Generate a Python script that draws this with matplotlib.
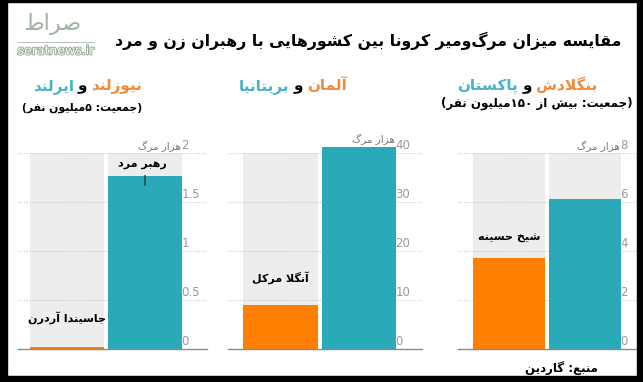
import re
import matplotlib
matplotlib.use('Agg')
import matplotlib.pyplot as plt
from matplotlib.patches import Rectangle
import matplotlib.patheffects as pe

plt.rcParams['font.family'] = ['DejaVu Sans']

# ---------------- data ----------------
title = 'مقایسه میزان مرگ\u200cومیر کرونا بین کشورهایی با رهبران زن و مرد'
orange_names = ['نیوزلند', 'آلمان', 'بنگلادش']
teal_names = ['ایرلند', 'بریتانیا', 'پاکستان']
and_word = 'و'
populations = ['(جمعیت: ۵میلیون نفر)', '', '(جمعیت: بیش از ۱۵۰میلیون نفر)']
female_leaders = ['جاسیندا آردرن', 'آنگلا مرکل', 'شیخ حسینه']
male_leader_label = 'رهبر مرد'
female_deaths = [0.022, 9.0, 3.7]     # thousand deaths (female-led country)
male_deaths = [1.77, 41.2, 6.12]      # thousand deaths (male-led country)
y_ticks = [[0, 0.5, 1, 1.5, 2], [0, 10, 20, 30, 40], [0, 2, 4, 6, 8]]
y_tick_labels = [['0', '0.5', '1', '1.5', '2'],
                 ['0', '10', '20', '30', '40'],
                 ['0', '2', '4', '6', '8']]
unit_label = 'هزار مرگ'
source = 'منبع: گاردین'
site = 'seratnews.ir'
logo = 'صراط'

# ---------------- Persian shaping ----------------
def _f4(b):
    return (b, b + 1, b + 2, b + 3)

def _f2(b):
    return (b, b + 1)

FORMS = {
    '\u0621': (0xFE80,), '\u0622': _f2(0xFE81), '\u0623': _f2(0xFE83),
    '\u0624': _f2(0xFE85), '\u0625': _f2(0xFE87), '\u0626': _f4(0xFE89),
    '\u0627': _f2(0xFE8D), '\u0628': _f4(0xFE8F), '\u0629': _f2(0xFE93),
    '\u062A': _f4(0xFE95), '\u062B': _f4(0xFE99), '\u062C': _f4(0xFE9D),
    '\u062D': _f4(0xFEA1), '\u062E': _f4(0xFEA5), '\u062F': _f2(0xFEA9),
    '\u0630': _f2(0xFEAB), '\u0631': _f2(0xFEAD), '\u0632': _f2(0xFEAF),
    '\u0633': _f4(0xFEB1), '\u0634': _f4(0xFEB5), '\u0635': _f4(0xFEB9),
    '\u0636': _f4(0xFEBD), '\u0637': _f4(0xFEC1), '\u0638': _f4(0xFEC5),
    '\u0639': _f4(0xFEC9), '\u063A': _f4(0xFECD), '\u0641': _f4(0xFED1),
    '\u0642': _f4(0xFED5), '\u0643': _f4(0xFED9), '\u0644': _f4(0xFEDD),
    '\u0645': _f4(0xFEE1), '\u0646': _f4(0xFEE5), '\u0647': _f4(0xFEE9),
    '\u0648': _f2(0xFEED), '\u0649': _f2(0xFEEF), '\u064A': _f4(0xFEF1),
    '\u067E': _f4(0xFB56), '\u0686': _f4(0xFB7A), '\u0698': _f2(0xFB8A),
    '\u06A9': _f4(0xFB8E), '\u06AF': _f4(0xFB92), '\u06CC': _f4(0xFBFC),
}
LAM_ALEF = {'\u0622': (0xFEF5, 0xFEF6), '\u0623': (0xFEF7, 0xFEF8),
            '\u0625': (0xFEF9, 0xFEFA), '\u0627': (0xFEFB, 0xFEFC)}


def _joining(c):
    return c in FORMS and len(FORMS[c]) >= 2


def _joins_next(c):
    return c in FORMS and len(FORMS[c]) == 4


def shape(s):
    s = s.replace('\u064A', '\u06CC').replace('\u0643', '\u06A9')
    res = []
    i, n = 0, len(s)
    while i < n:
        c = s[i]
        prev = s[i - 1] if i > 0 else ''
        nxt = s[i + 1] if i + 1 < n else ''
        jp = _joins_next(prev) and _joining(c)
        if c == '\u0644' and nxt in LAM_ALEF:
            iso, fin = LAM_ALEF[nxt]
            res.append(chr(fin if jp else iso))
            i += 2
            continue
        if c in FORMS:
            f = FORMS[c]
            jn = len(f) == 4 and _joining(nxt)
            if jp and jn:
                res.append(chr(f[3]))
            elif jp:
                res.append(chr(f[1]))
            elif jn:
                res.append(chr(f[2]))
            else:
                res.append(chr(f[0]))
        elif c == '\u200c':
            pass
        else:
            res.append(c)
        i += 1
    return ''.join(res)


def fa(s):
    t = shape(s)[::-1]
    t = re.sub(r'[0-9\u06F0-\u06F9]+', lambda m: m.group(0)[::-1], t)
    return t.translate(str.maketrans('()', ')('))

# ---------------- figure ----------------
W, H = 643, 382
fig = plt.figure(figsize=(W / 100, H / 100), dpi=100)
fig.patch.set_facecolor('white')

ORANGE = '#ff8000'
TEAL = '#2aaab8'
BG = '#ededed'
HEAD_OR = '#f28a3a'
HEAD_TE = '#46b3c8'
TICK_C = '#9a9a9a'


def fx(px):
    return px / W


def fy(py):
    return 1 - py / H

# layout per panel (pixels): axes left/right, first-bar left, second-bar right
layout = [(18, 207, 30, 182), (228, 422, 243, 396), (458, 640, 473, 621)]
AX_TOP, AX_BOT = 153, 349
GAP = 4
fem_label_dy = [21, 19.5, 14.5]   # points above bar top
unit_dy = [1, 5.5, 1]

axes = []
for k, (al, ar, bl, br) in enumerate(layout):
    ax = fig.add_axes([fx(al), fy(AX_BOT), fx(ar - al), (AX_BOT - AX_TOP) / H])
    ax.patch.set_alpha(0)
    bw = (br - bl - GAP) / 2
    sp = bw + GAP
    w = bw / sp
    ax.set_xlim(-w / 2 - (bl - al) / sp, 1 + w / 2 + (ar - br) / sp)
    top = y_ticks[k][-1]
    ax.set_ylim(0, top)
    for s in ax.spines.values():
        s.set_visible(False)
    ax.set_xticks([])
    ax.set_yticks([])
    # background bars
    ax.bar([0, 1], [top, top], width=w, color=BG, zorder=1)
    # gridlines
    for t in y_ticks[k][1:]:
        ax.axhline(t, color='#c8c8c8', lw=0.8, ls=(0, (1, 1.5)), zorder=2)
    ax.axhline(0, color='#8a8a8a', lw=1.0, zorder=5, clip_on=False)
    # data bars
    ax.bar([0], [female_deaths[k]], width=w, color=ORANGE, zorder=3, clip_on=False)
    ax.bar([1], [male_deaths[k]], width=w, color=TEAL, zorder=3, clip_on=False)
    xr = 1 + w / 2
    for t, lab in zip(y_ticks[k], y_tick_labels[k]):
        ax.annotate(lab, xy=(xr, t), xytext=(-0.5, 0.8), textcoords='offset points',
                    ha='left', va='bottom', fontsize=8.5, color=TICK_C, zorder=6)
    ax.annotate(fa(unit_label), xy=(xr, top), xytext=(-1, unit_dy[k]),
                textcoords='offset points', ha='right', va='bottom',
                fontsize=7.5, color='#777777', zorder=6, annotation_clip=False)
    ax.annotate(fa(female_leaders[k]), xy=(0, female_deaths[k]),
                xytext=(0, fem_label_dy[k]), textcoords='offset points',
                ha='center', va='center', fontsize=8, fontweight='bold',
                color='black', zorder=6)
    axes.append(ax)

# male leader label (first panel)
ax0 = axes[0]
ax0.annotate(fa(male_leader_label), xy=(1, male_deaths[0]), xytext=(-2, 8),
             textcoords='offset points', ha='center', va='center', fontsize=8,
             fontweight='bold', color='black', zorder=6, annotation_clip=False)
ax0.annotate('', xy=(1, male_deaths[0]), xytext=(0, -7), textcoords='offset points',
             arrowprops=dict(arrowstyle='-', color='#333333', lw=1.0,
                             shrinkA=0, shrinkB=0), zorder=6)

# ---------------- texts ----------------
fig.text(fx(621), fy(41), fa(title), ha='right', va='center', fontsize=11.3,
         fontweight='bold', color='black')

renderer = fig.canvas.get_renderer()
head_right = [142, 347, 597]
HEAD_BASE = 90
for k in range(3):
    x = head_right[k]
    parts = [(orange_names[k], HEAD_OR), (and_word, 'black'), (teal_names[k], HEAD_TE)]
    for word, col in parts:
        t = fig.text(fx(x), fy(HEAD_BASE), fa(word), ha='right', va='baseline',
                     fontsize=11, fontweight='bold', color=col)
        bb = t.get_window_extent(renderer)
        x = bb.x0 - 4

pop_pos = [(142, 108), None, (633, 103)]
pop_size = [7.8, None, 8.6]
for k in range(3):
    if populations[k] and pop_pos[k]:
        px, py = pop_pos[k]
        fig.text(fx(px), fy(py), fa(populations[k]), ha='right', va='center',
                 fontsize=pop_size[k], fontweight='bold', color='black')

fig.text(fx(598), fy(368), fa(source), ha='right', va='center', fontsize=8.5,
         fontweight='bold', color='black')

# logo
fig.text(fx(56), fy(51), site, ha='center', va='center', fontsize=9, color='white',
         path_effects=[pe.withStroke(linewidth=1.3, foreground='#94a894')])
fig.text(fx(52), fy(24), fa(logo), ha='center', va='center', fontsize=16,
         color='#a3b3a3')
fig.add_artist(plt.Line2D([fx(18), fx(94)], [fy(42), fy(42)], color='#b8c8b8', lw=0.8))

# frame
for (x0, y0, x1, y1) in [(0, 0, 7, 382), (637, 0, 643, 382), (0, 376, 643, 382), (0, 0, 643, 2)]:
    fig.add_artist(Rectangle((fx(x0), fy(y1)), fx(x1 - x0), (y1 - y0) / H,
                             transform=fig.transFigure, color='black', zorder=10))

fig.savefig('out.png', dpi=100)
